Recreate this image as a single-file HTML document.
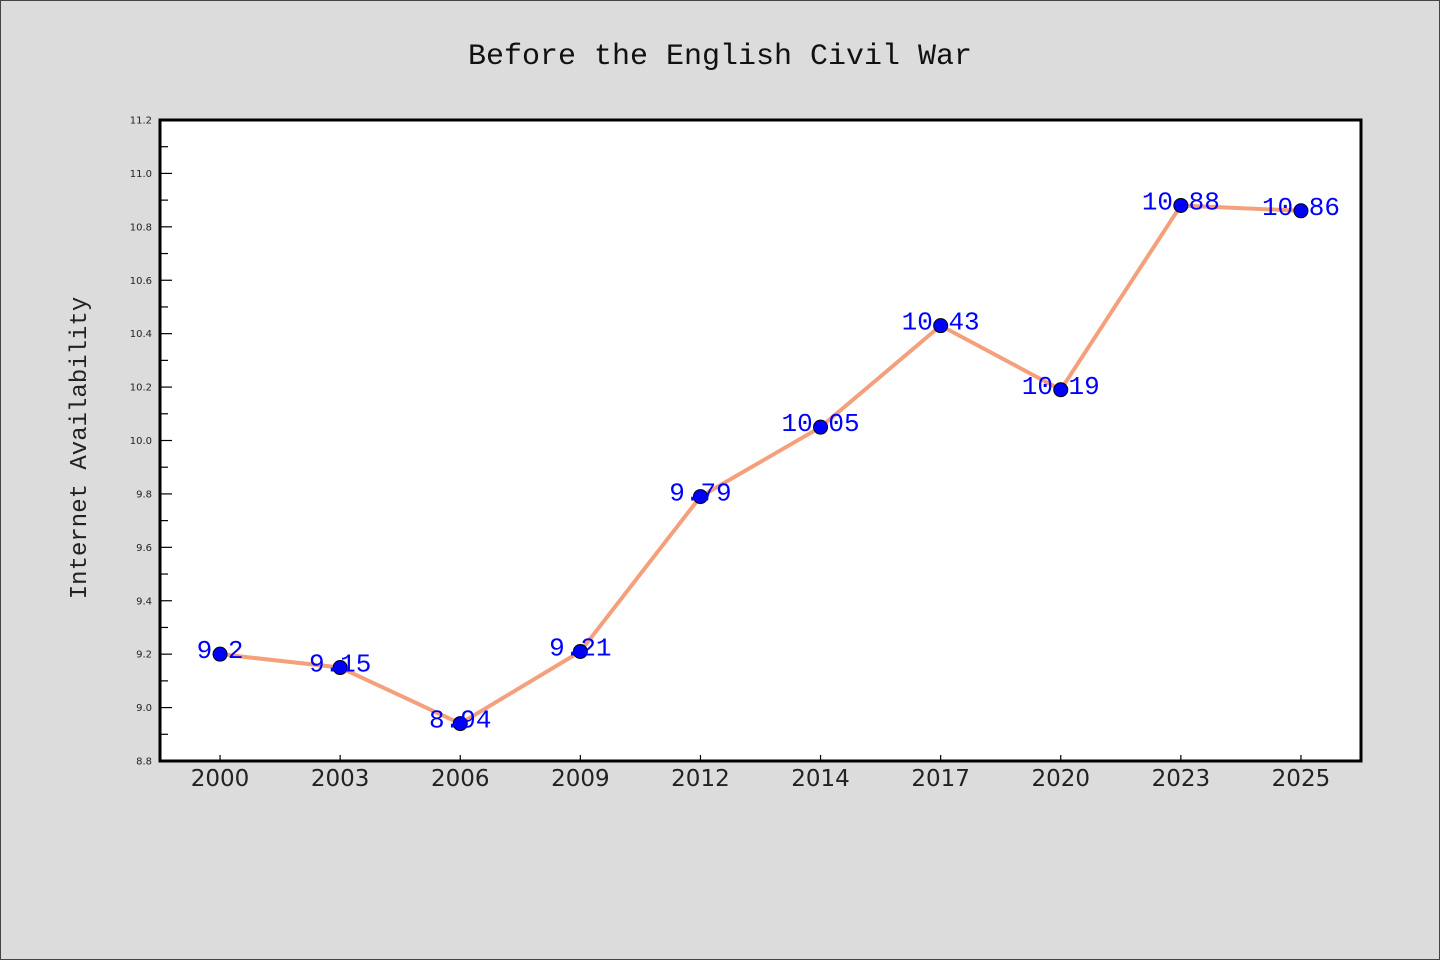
<!DOCTYPE html>
<html><head><meta charset="utf-8"><style>
html,body{margin:0;padding:0;background:#dcdcdc;}
svg{display:block;}
</style></head><body>
<svg id="chart" width="1440" height="960" xmlns="http://www.w3.org/2000/svg">
<rect x="0.5" y="0.5" width="1439" height="959" fill="#dcdcdc" stroke="#444"/>
<text x="720" y="64" text-anchor="middle" font-family="Liberation Mono, monospace" font-size="30" fill="#111">Before the English Civil War</text>
<text transform="translate(86,448) rotate(-90)" text-anchor="middle" font-family="Liberation Mono, monospace" font-size="24" fill="#222">Internet Availability</text>
<rect x="160" y="120" width="1201" height="641" fill="#fff"/>
<g id="ticks"></g>
<g id="marks"></g>
<rect x="160" y="120" width="1201" height="641" fill="none" stroke="#000" stroke-width="3"/>
</svg>
<script>
const categories = ["2000","2003","2006","2009","2012","2014","2017","2020","2023","2025"];
const values = [9.2, 9.15, 8.94, 9.21, 9.79, 10.05, 10.43, 10.19, 10.88, 10.86];
const valueLabels = ["9.2","9.15","8.94","9.21","9.79","10.05","10.43","10.19","10.88","10.86"];
const yTicks = ["8.8","9.0","9.2","9.4","9.6","9.8","10.0","10.2","10.4","10.6","10.8","11.0","11.2"];
const yMin = 8.8, yMax = 11.2;
const L=160, R=1361, T=120, B=761;
const NS="http://www.w3.org/2000/svg";
function xPos(i){ return L + (R-L)/categories.length*(i+0.5); }
function yPos(v){ return B - (v-yMin)/(yMax-yMin)*(B-T); }
function mk(tag, attrs, parent){ const e=document.createElementNS(NS,tag); for(const k in attrs) e.setAttribute(k, attrs[k]); parent.appendChild(e); return e; }
const tg=document.getElementById('ticks'), mg=document.getElementById('marks');
yTicks.forEach((t,i)=>{
  const y=yPos(parseFloat(t));
  const ln=mk('line',{x1:L,x2:L+12,y1:y,y2:y,stroke:'#000','stroke-width':1.2},tg);
  
  
  const tx=mk('text',{x:L-8,y:y+3.5,'text-anchor':'end','font-family':'DejaVu Sans, sans-serif','font-size':10,fill:'#222'},tg);
  tx.textContent=t;
  
  
  if(i<yTicks.length-1){
    const ym=yPos(parseFloat(t)+0.1);
    const mn=mk('line',{x1:L,x2:L+8,y1:ym,y2:ym,stroke:'#000','stroke-width':1.2},tg);
    
    
  }
});
categories.forEach((c,i)=>{
  const x=xPos(i);
  const ln=mk('line',{x1:x,x2:x,y1:B-6,y2:B,stroke:'#000','stroke-width':1.2},tg);
  
  
  const tx=mk('text',{x:x,y:B+25,'text-anchor':'middle','font-family':'DejaVu Sans, sans-serif','font-size':23,fill:'#222'},tg);
  tx.textContent=c;
  
  
});
const pts=values.map((v,i)=>xPos(i)+','+yPos(v)).join(' ');
const pl=mk('polyline',{points:pts,fill:'none',stroke:'#f4a07c','stroke-width':4,'stroke-linejoin':'round'},mg);


values.forEach((v,i)=>{
  const c=mk('circle',{cx:xPos(i),cy:yPos(v),r:7,fill:'#0000ff',stroke:'#000','stroke-width':1},mg);
  
  
});
values.forEach((v,i)=>{
  const t=mk('text',{x:xPos(i),y:yPos(v)+4,'text-anchor':'middle','font-family':'Liberation Mono, monospace','font-size':26,fill:'#0000ff'},mg);
  t.textContent=valueLabels[i];
  
  
});
</script>
</body></html>
